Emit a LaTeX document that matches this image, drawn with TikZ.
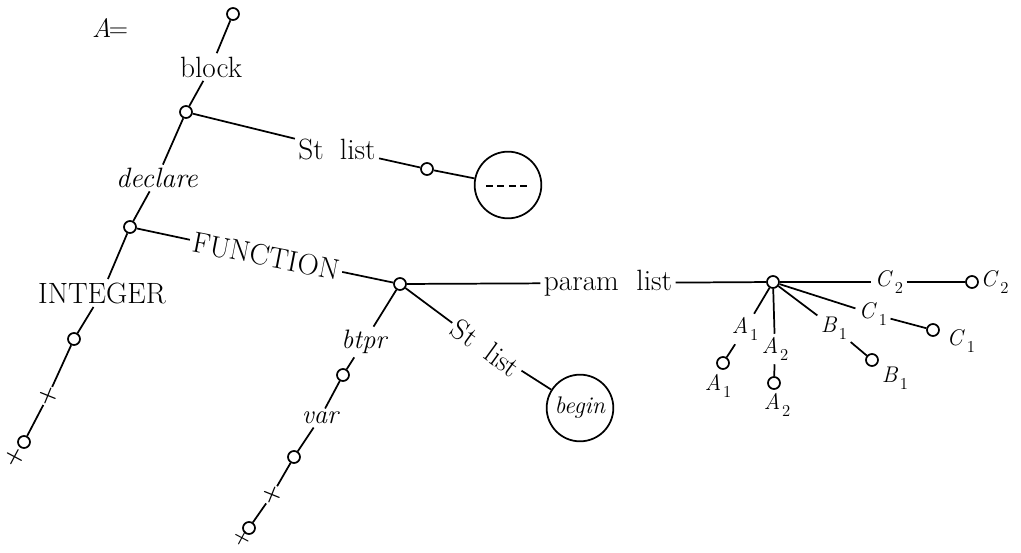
\documentclass[tikz,border=0pt]{standalone}
\newcommand{\sbs}[2]{\textit{#1}\kern0.08em\raisebox{-0.32em}{\fontsize{12.5}{13}\selectfont #2}}
\begin{document}
\begin{tikzpicture}[x=0.75pt,y=-0.75pt,line width=1.3pt,
  every node/.style={font=\fontsize{22}{26}\selectfont},
  dot/.style={circle,draw,line width=1.3pt,minimum size=9pt,inner sep=0pt,fill=white},
  bigc/.style={circle,draw,line width=1.3pt,minimum size=50pt,inner sep=0pt},
  lbl/.style={inner sep=2pt},
  ilbl/.style={inner sep=2pt,font=\fontsize{21}{24}\selectfont\itshape},
  mlbl/.style={inner sep=2pt,font=\fontsize{17}{20}\selectfont},
  xmark/.style={inner sep=0.5pt,font=\fontsize{17}{18}\selectfont\bfseries}]
\useasboundingbox (0,0) rectangle (1021,553);
% left chain
\node[dot] (top) at (233,14) {};
\node[lbl,font=\fontsize{20}{24}\selectfont] (aeq) at (110,28) {\textit{A}\kern-0.1em=};
\node[lbl] (block) at (211,67) {block};
\node[dot] (n1) at (186,112) {};
\node[lbl] (st1) at (337,149) {St\hspace{0.55em}list};
\node[dot] (s1) at (427,169) {};
\node[bigc] (big) at (508,185) {};
\node[ilbl] (declare) at (157,178) {declare};
\node[dot] (n2) at (130,227) {};
\node[lbl,rotate=-11] (func) at (266,256) {FUNCTION};
\node[dot] (n3) at (400,284) {};
\node[lbl] (integer) at (102,293) {INTEGER};
\node[dot] (n5) at (74,339) {};
\node[xmark,rotate=-22] (x1) at (48,396) {+};
\node[dot] (n6) at (24,442) {};
\node[xmark,rotate=-28] (x2) at (15,457) {+};
% second chain
\node[ilbl,font=\fontsize{20}{24}\selectfont\itshape] (btpr) at (364,342) {btpr};
\node[dot] (n7) at (343,375) {};
\node[ilbl,font=\fontsize{20}{24}\selectfont\itshape] (var) at (320,418) {var};
\node[dot] (n8) at (294,457) {};
\node[xmark,rotate=-22] (x3) at (272,495) {+};
\node[dot] (n9) at (249,528) {};
\node[xmark,rotate=-28,font=\fontsize{15}{16}\selectfont\bfseries] (x4) at (242,538) {+};
\node[lbl,rotate=-36] (st2) at (486,348) {St\hspace{0.55em}list};
\node[bigc,font=\fontsize{18}{20}\selectfont] (begin) at (580,408) {\textit{begin}};
% param list
\node[lbl] (param) at (608,283) {param\hspace{0.6em}list};
\node[dot] (n4) at (773,282) {};
\node[mlbl] (c2l) at (889,282) {\sbs{C}{2}};
\node[dot] (nc2) at (972,282) {};
\node[mlbl,anchor=west] (c2t) at (977,282) {\sbs{C}{2}};
\node[mlbl] (c1l) at (873,314) {\sbs{C}{1}};
\node[dot] (nc1) at (933,330) {};
\node[mlbl] (c1t) at (961,341) {\sbs{C}{1}};
\node[mlbl] (b1l) at (834,328) {\sbs{B}{1}};
\node[dot] (nb1) at (872,360) {};
\node[mlbl] (b1t) at (895,378) {\sbs{B}{1}};
\node[mlbl] (a2l) at (775,349) {\sbs{A}{2}};
\node[dot] (na2) at (774,383) {};
\node[mlbl] (a2t) at (777,405) {\sbs{A}{2}};
\node[mlbl] (a1l) at (745,329) {\sbs{A}{1}};
\node[dot] (na1) at (723,363) {};
\node[mlbl] (a1t) at (718,386) {\sbs{A}{1}};
% connectors
\draw (top) -- (block) -- (n1) -- (declare) -- (n2) -- (integer) -- (n5) -- (x1) -- (n6);
\draw (n1) -- (st1) -- (s1) -- (big);
\draw (n2) -- (func) -- (n3);
\draw (n3) -- (btpr) -- (n7) -- (var) -- (n8) -- (x3) -- (n9);
\draw (n3) -- (st2) -- (begin);
\draw (n3) -- (param) -- (n4);
\draw (n4) -- (c2l) -- (nc2);
\draw (n4) -- (c1l) -- (nc1);
\draw (n4) -- (b1l) -- (nb1);
\draw (n4) -- (a2l) -- (na2);
\draw (n4) -- (a1l) -- (na1);
\draw[dash pattern=on 5pt off 3.6pt] ([xshift=-16.5pt,yshift=-1pt]big.center) -- ([xshift=16.5pt,yshift=-1pt]big.center);
\end{tikzpicture}
\end{document}
